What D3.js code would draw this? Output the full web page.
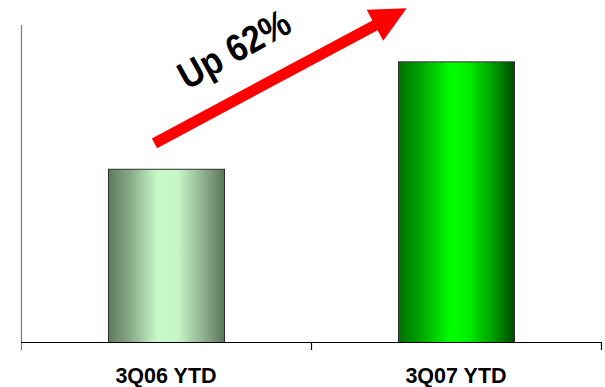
<!DOCTYPE html>
<html>
<head>
<meta charset="utf-8">
<script src="https://cdn.jsdelivr.net/npm/d3@7"></script>
<style>
  html, body { margin: 0; padding: 0; background: #fff; }
  svg { display: block; }
</style>
</head>
<body>
<svg id="chart" width="605" height="387"></svg>
<script>
// Year-to-date totals, third quarter 2006 vs 2007 (indexed, 3Q06 = 100)
const categories = ["3Q06 YTD", "3Q07 YTD"];
const values = [100, 162];
const growthLabel = "Up 62%";

const width = 605, height = 387;
const margin = { left: 21, right: 4, top: 25, bottom: 45 };
const x0 = margin.left, x1 = width - margin.right;
const yBase = height - margin.bottom;

const svg = d3.select("#chart");
const defs = svg.append("defs");

// Horizontal "cylinder" shading for each bar
const gradients = [
  { id: "g0", stops: [[0, "#5d7b5d"], [0.18, "#86a886"], [0.42, "#c8f9c8"], [0.6, "#c6f6c6"], [0.85, "#86a686"], [1, "#587658"]] },
  { id: "g1", stops: [[0, "#007000"], [0.2, "#00a800"], [0.45, "#00ff00"], [0.6, "#00f000"], [0.85, "#009000"], [1, "#004a00"]] }
];
gradients.forEach(g => {
  const lg = defs.append("linearGradient").attr("id", g.id)
    .attr("x1", "0%").attr("x2", "100%").attr("y1", "0%").attr("y2", "0%");
  g.stops.forEach(([o, c]) => lg.append("stop").attr("offset", o).attr("stop-color", c));
});

const x = d3.scaleBand()
  .domain(categories)
  .range([x0, x1])
  .paddingInner(0.6)
  .paddingOuter(0.3);

const y = d3.scaleLinear()
  .domain([0, 183])
  .range([yBase, margin.top]);

// Bars
svg.append("g").selectAll("rect")
  .data(values)
  .join("rect")
  .attr("x", (d, i) => x(categories[i]) + 0.5)
  .attr("y", d => y(d) + 0.5)
  .attr("width", x.bandwidth())
  .attr("height", d => yBase - y(d))
  .attr("fill", (d, i) => `url(#g${i})`)
  .attr("stroke", "#2e2e2e")
  .attr("stroke-width", 1);

// Value axis line (no ticks)
svg.append("line")
  .attr("x1", x0 + 0.5).attr("x2", x0 + 0.5)
  .attr("y1", margin.top).attr("y2", yBase + 8)
  .attr("stroke", "#7a7a7a").attr("stroke-width", 1.2);

// Category axis with separators between categories
const step = x.step();
const tickPositions = [x0, x0 + step, x1];
const axis = svg.append("g");
axis.append("line")
  .attr("x1", x0).attr("x2", x1)
  .attr("y1", yBase + 0.5).attr("y2", yBase + 0.5)
  .attr("stroke", "#000").attr("stroke-width", 1.2);
axis.selectAll("line.tick")
  .data(tickPositions.slice(1))
  .join("line")
  .attr("class", "tick")
  .attr("x1", d => d + 0.5).attr("x2", d => d + 0.5)
  .attr("y1", yBase).attr("y2", yBase + 8)
  .attr("stroke", "#000").attr("stroke-width", 1.2);

axis.selectAll("text")
  .data(categories)
  .join("text")
  .attr("x", d => x(d) + x.bandwidth() / 2)
  .attr("y", yBase + 41)
  .attr("text-anchor", "middle")
  .attr("font-family", "Liberation Sans, Arial, sans-serif")
  .attr("font-weight", "bold")
  .attr("font-size", 21.5)
  .attr("fill", "#000")
  .text(d => d);

// Growth arrow
const tail = [154.5, 143.3], tip = [406.7, 8.3];
const ang = Math.atan2(tip[1] - tail[1], tip[0] - tail[0]);
const len = Math.hypot(tip[0] - tail[0], tip[1] - tail[1]);
const shaftW = 11, headW = 35, headL = 36;
const arrowPts = [
  [0, -shaftW / 2], [len - headL, -shaftW / 2], [len - headL, -headW / 2],
  [len, 0],
  [len - headL, headW / 2], [len - headL, shaftW / 2], [0, shaftW / 2]
];
svg.append("path")
  .attr("d", d3.line()(arrowPts) + "Z")
  .attr("transform", `translate(${tail[0]},${tail[1]}) rotate(${ang * 180 / Math.PI})`)
  .attr("fill", "#ff0000");

svg.append("text")
  .attr("transform", "translate(234,49) rotate(-29) scale(0.94,1.06)")
  .attr("text-anchor", "middle")
  .attr("dominant-baseline", "central")
  .attr("font-family", "Liberation Sans, Arial, sans-serif")
  .attr("font-weight", "bold")
  .attr("font-size", 36)
  .attr("fill", "#000")
  .text(growthLabel);
</script>
</body>
</html>
